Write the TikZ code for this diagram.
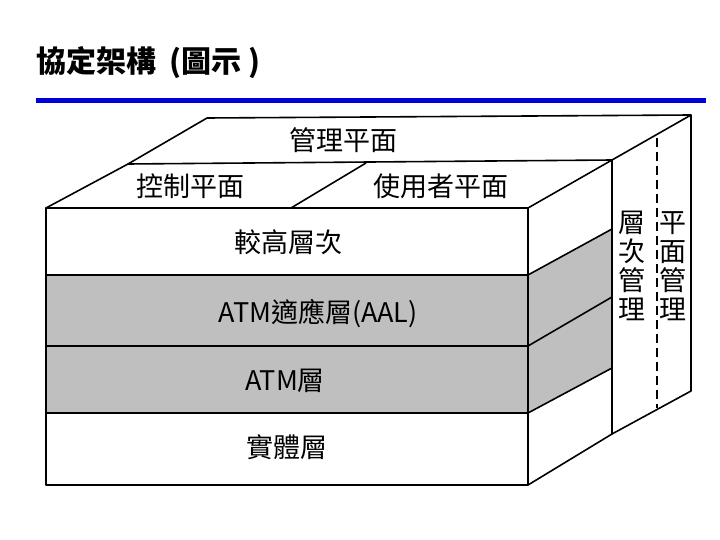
\documentclass[tikz,border=0pt]{standalone}
\usepackage{fontspec}
\newfontfamily\cjk{Noto Sans CJK TC}
\setmainfont{Liberation Serif}
\begin{document}
\begin{tikzpicture}[x=1pt,y=-1pt,
  lbl/.style={font=\cjk\fontsize{27}{30}\selectfont,inner sep=0pt},
  vlbl/.style={font=\cjk\fontsize{27}{29}\selectfont,inner sep=0pt,align=center},
  edge/.style={line width=1.6pt,line join=round}]
\useasboundingbox (0,0) rectangle (720,540);
\node[anchor=west,font=\cjk\bfseries\fontsize{30}{33}\selectfont,inner sep=0pt] (title) at (36,63) {協定架構\ \ (圖示\ )};
\fill[blue!85!black] (36,98) rectangle (706,103);
\coordinate (FTL) at (46,208); \coordinate (FTR) at (528,208);
\coordinate (FBL) at (46,485); \coordinate (FBR) at (528,485);
\coordinate (M1) at (128,164); \coordinate (M2) at (612,160);
\coordinate (B1) at (207,118); \coordinate (B2) at (691,115);
\coordinate (RB) at (612,434); \coordinate (OB) at (691,391);
\fill[gray!50] (46,275) rectangle (528,413);
\fill[gray!50] (528,275) -- (612,229) -- (612,368) -- (528,413) -- cycle;
\draw[edge] (FTL) rectangle (FBR);
\draw[edge] (46,275) -- (528,275) -- (612,229);
\draw[edge] (46,346) -- (528,346) -- (612,297);
\draw[edge] (46,413) -- (528,413) -- (612,368);
\draw[edge] (FTL) -- (M1) -- (B1) -- (B2) -- (OB) -- (RB) -- (FBR);
\draw[edge] (M1) -- (M2) -- (RB);
\draw[edge] (FTR) -- (M2) -- (B2);
\draw[edge] (291,208) -- (366,163);
\draw[line width=1.4pt,dash pattern=on 9pt off 5pt] (657,138) -- (657,408);
\node[lbl] (mgmt) at (343,140) {管理平面};
\node[lbl] (ctrl) at (190,186) {控制平面};
\node[lbl] (user) at (441,186) {使用者平面};
\node[lbl] (high) at (288,242) {較高層次};
\node[lbl] (aal) at (318,314) {ATM適應層(AAL)};
\node[lbl] (atm) at (285,381) {ATM層};
\node[lbl] (phy) at (287,447) {實體層};
\node[vlbl] (lm) at (632,266) {層\\次\\管\\理};
\node[vlbl] (pm) at (673,266) {平\\面\\管\\理};
\end{tikzpicture}
\end{document}
